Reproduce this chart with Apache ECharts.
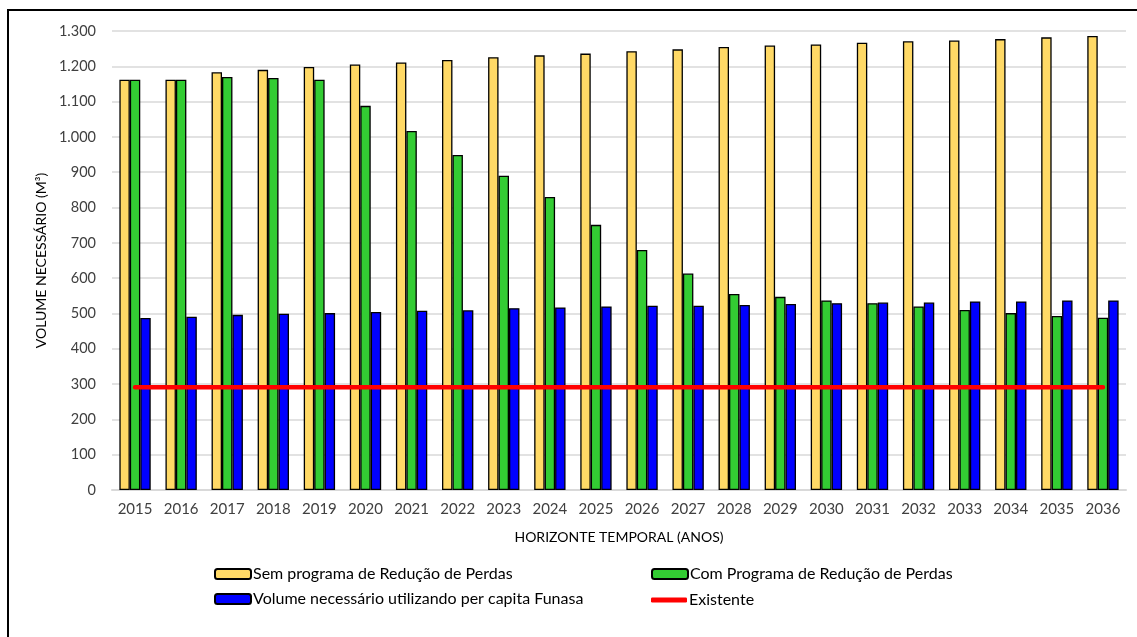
<!DOCTYPE html>
<html>
<head>
<meta charset="utf-8">
<script src="https://cdn.jsdelivr.net/npm/echarts@6/dist/echarts.min.js"></script>
<style>
  html, body { margin: 0; padding: 0; background: #fff; }
  #chart { width: 1137px; height: 637px; }
</style>
</head>
<body>
<div id="chart"></div>
<script>
// Horizonte de projeto: volumes de reservação necessários (m³)
const anos = ['2015','2016','2017','2018','2019','2020','2021','2022','2023','2024','2025',
              '2026','2027','2028','2029','2030','2031','2032','2033','2034','2035','2036'];

const semPrograma = [1162, 1162, 1183, 1190, 1198, 1205, 1211, 1218, 1226, 1231, 1236,
                     1243, 1248, 1255, 1259, 1262, 1267, 1271, 1273, 1277, 1282, 1286];

const comPrograma = [1162, 1162, 1170, 1167, 1162, 1088, 1017, 949, 890, 830, 751,
                     680, 613, 555, 547, 537, 529, 520, 510, 501, 493, 488];

const perCapitaFunasa = [487, 491, 496, 499, 501, 504, 508, 509, 515, 517, 520,
                         522, 522, 524, 527, 529, 531, 531, 534, 534, 537, 537];

const existente = [291, 291, 291, 291, 291, 291, 291, 291, 291, 291, 291,
                   291, 291, 291, 291, 291, 291, 291, 291, 291, 291, 291];

const nomes = {
  sem: 'Sem programa de Redução de Perdas',
  com: 'Com Programa de Redução de Perdas',
  funasa: 'Volume necessário utilizando per capita Funasa',
  exist: 'Existente'
};

const FONT = 'Lato, "Open Sans", sans-serif';

function milhar(v) {
  return String(v).replace(/\B(?=(\d{3})+(?!\d))/g, '.');
}

const barBase = {
  type: 'bar',
  barGap: '0%',
  barCategoryGap: '32%',
  itemStyle: { borderColor: '#000', borderWidth: 1.3 }
};

const legendText = { fontFamily: FONT, fontSize: 16, color: '#000', padding: [0, 0, 0, -3] };

const chart = echarts.init(document.getElementById('chart'), null, { renderer: 'canvas' });

chart.setOption({
  animation: false,
  backgroundColor: '#fff',
  textStyle: { fontFamily: FONT },
  graphic: [{
    type: 'rect',
    shape: { x: 8, y: 10, width: 1200, height: 700 },
    style: { fill: null, stroke: '#000', lineWidth: 2 },
    silent: true
  }],
  grid: { left: 112, right: 11, top: 31, bottom: 147 },
  legend: [
    {
      orient: 'vertical', left: 214, top: 566, padding: 0, itemGap: 9,
      itemWidth: 36, itemHeight: 10,
      textStyle: legendText,
      data: [nomes.sem, nomes.funasa]
    },
    {
      orient: 'vertical', left: 651, top: 566, padding: 0,
      itemWidth: 36, itemHeight: 10,
      textStyle: legendText,
      data: [nomes.com]
    },
    {
      orient: 'vertical', left: 651, top: 592, padding: 0,
      itemWidth: 36, itemHeight: 5,
      icon: 'roundRect',
      textStyle: legendText,
      data: [nomes.exist]
    }
  ],
  xAxis: {
    type: 'category',
    data: anos,
    name: 'HORIZONTE TEMPORAL (ANOS)',
    nameLocation: 'middle',
    nameGap: 40,
    nameTextStyle: { fontFamily: FONT, fontSize: 14, color: '#000' },
    axisLine: { lineStyle: { color: '#d9d9d9', width: 2 } },
    axisTick: { show: false },
    axisLabel: { fontFamily: FONT, fontSize: 15, color: '#404040', margin: 12 }
  },
  yAxis: {
    type: 'value',
    min: 0, max: 1300, interval: 100,
    name: 'VOLUME NECESSÁRIO (M³)',
    nameLocation: 'middle',
    nameGap: 60,
    nameTextStyle: { fontFamily: FONT, fontSize: 14, color: '#000' },
    axisLine: { show: false },
    axisTick: { show: false },
    axisLabel: { fontFamily: FONT, fontSize: 14.5, color: '#404040', margin: 16, formatter: milhar },
    splitLine: { lineStyle: { color: '#d9d9d9', width: 1.5 } }
  },
  series: [
    Object.assign({}, barBase, { name: nomes.sem, data: semPrograma, itemStyle: Object.assign({}, barBase.itemStyle, { color: '#FFD966' }) }),
    Object.assign({}, barBase, { name: nomes.com, data: comPrograma, itemStyle: Object.assign({}, barBase.itemStyle, { color: '#33CC33' }) }),
    Object.assign({}, barBase, { name: nomes.funasa, data: perCapitaFunasa, itemStyle: Object.assign({}, barBase.itemStyle, { color: '#0000FF' }) }),
    {
      name: nomes.exist,
      type: 'line',
      data: existente,
      symbol: 'none',
      z: 5,
      itemStyle: { color: '#FF0000' },
      lineStyle: { color: '#FF0000', width: 4.5, cap: 'round' }
    }
  ]
});
</script>
</body>
</html>
